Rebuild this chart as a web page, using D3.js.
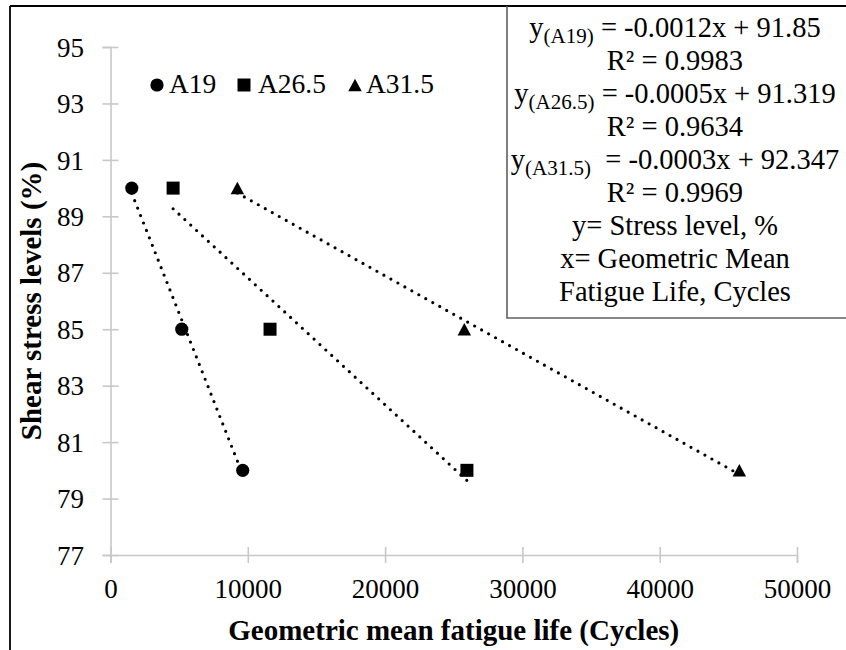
<!DOCTYPE html>
<html>
<head>
<meta charset="utf-8">
<script src="https://cdn.jsdelivr.net/npm/d3@7"></script>
<style>
  html, body { margin: 0; padding: 0; background: #fff; }
  svg { display: block; }
  text { font-family: "Liberation Serif", "Times New Roman", serif; fill: #000; }
</style>
</head>
<body>
<svg id="chart" width="846" height="650"></svg>
<script>
// Stress levels (%) applied to every mix
const stressLevels = [90, 85, 80];

// Geometric mean fatigue life (cycles) per mix, one value per stress level
const lifeA19 = [1550, 5190, 9630];
const lifeA265 = [4560, 11620, 25960];
const lifeA315 = [9240, 25770, 45800];

const seriesNames = ["A19", "A26.5", "A31.5"];
const seriesShapes = ["circle", "square", "triangle"];

// Axis ticks
const xTicks = [0, 10000, 20000, 30000, 40000, 50000];
const yTicks = [77, 79, 81, 83, 85, 87, 89, 91, 93, 95];

// Regression summary shown in the box (subscript label, equation, R²)
const eqSubs = ["(A19)", "(A26.5)", "(A31.5)"];
const eqRest = [" = -0.0012x + 91.85", " = -0.0005x + 91.319", "  = -0.0003x + 92.347"];
const eqR2 = ["R² = 0.9983", "R² = 0.9634", "R² = 0.9969"];
const noteLines = ["y= Stress level, %", "x= Geometric Mean", "Fatigue Life, Cycles"];

const series = [lifeA19, lifeA265, lifeA315].map((life, i) => ({
  name: seriesNames[i],
  shape: seriesShapes[i],
  points: life.map((x, j) => ({ x, y: stressLevels[j] }))
}));

const svg = d3.select("#chart");

// Outer frame (top and left edges)
svg.append("line").attr("x1", 10).attr("y1", 6).attr("x2", 846).attr("y2", 6)
  .attr("stroke", "#000").attr("stroke-width", 1.8);
svg.append("line").attr("x1", 10).attr("y1", 6).attr("x2", 10).attr("y2", 650)
  .attr("stroke", "#000").attr("stroke-width", 1.8);

const x = d3.scaleLinear().domain([0, 50000]).range([110.5, 797]);
const y = d3.scaleLinear().domain([77, 95]).range([555, 47]);

const axisColor = "#c8c8c8";

// Y axis
const gy = svg.append("g").attr("transform", `translate(${x(0)},0)`)
  .call(d3.axisLeft(y).tickValues(yTicks).tickSize(8).tickPadding(26));
gy.select(".domain").attr("stroke", axisColor).attr("stroke-width", 1.6);
gy.selectAll(".tick line").attr("x1", -8).attr("x2", 8)
  .attr("stroke", axisColor).attr("stroke-width", 1.6);
gy.selectAll(".tick text").attr("font-size", 27).attr("font-family", null)
  .attr("x", -26.5).attr("dy", "0.34em");

// X axis
const gx = svg.append("g").attr("transform", `translate(0,${y(77)})`)
  .call(d3.axisBottom(x).tickValues(xTicks).tickSize(8).tickFormat(d3.format("d")));
gx.select(".domain").attr("stroke", axisColor).attr("stroke-width", 1.6);
gx.selectAll(".tick line").attr("y1", -8).attr("y2", 8)
  .attr("stroke", axisColor).attr("stroke-width", 1.6);
gx.selectAll(".tick text").attr("font-size", 27).attr("font-family", null)
  .attr("y", 34).attr("dy", "0.34em");

// Axis titles
svg.append("text").attr("x", (x(0) + x(50000)) / 2).attr("y", 640)
  .attr("text-anchor", "middle").attr("font-size", 29).attr("font-weight", "bold")
  .text("Geometric mean fatigue life (Cycles)");
svg.append("text")
  .attr("transform", `translate(41,${(y(77) + y(95)) / 2}) rotate(-90)`)
  .attr("text-anchor", "middle").attr("font-size", 29).attr("font-weight", "bold")
  .text("Shear stress levels (%)");

// Least-squares linear fit over the points of one series
function linearFit(pts) {
  const mx = d3.mean(pts, d => d.x), my = d3.mean(pts, d => d.y);
  const sxy = d3.sum(pts, d => (d.x - mx) * (d.y - my));
  const sxx = d3.sum(pts, d => (d.x - mx) ** 2);
  const slope = sxy / sxx;
  return { slope, intercept: my - slope * mx };
}

const line = d3.line().x(d => x(d.x)).y(d => y(d.y));

// Dotted trendlines spanning each series' x range
series.forEach(s => {
  const fit = linearFit(s.points);
  const [x0, x1] = d3.extent(s.points, d => d.x);
  const ends = [x0, x1].map(v => ({ x: v, y: fit.intercept + fit.slope * v }));
  svg.append("path").attr("d", line(ends))
    .attr("fill", "none").attr("stroke", "#000").attr("stroke-width", 3.2)
    .attr("stroke-linecap", "round").attr("stroke-dasharray", "0 8");
});

// Marker drawing
function drawMarker(g, shape, cx, cy) {
  if (shape === "circle") {
    g.append("circle").attr("cx", cx).attr("cy", cy).attr("r", 6.6).attr("fill", "#000");
  } else if (shape === "square") {
    g.append("rect").attr("x", cx - 6.5).attr("y", cy - 6.5).attr("width", 13).attr("height", 13).attr("fill", "#000");
  } else {
    const w = 13.5, h = 12.5;
    g.append("path").attr("d", `M${cx},${cy - h / 2}L${cx + w / 2},${cy + h / 2}L${cx - w / 2},${cy + h / 2}Z`).attr("fill", "#000");
  }
}

const markers = svg.append("g");
series.forEach(s => s.points.forEach(p => drawMarker(markers, s.shape, x(p.x), y(p.y))));

// Legend
const legendMarkerX = [157, 244, 355];
const legendTextX = [169, 258, 366];
const legend = svg.append("g");
series.forEach((s, i) => {
  drawMarker(legend, s.shape, legendMarkerX[i], 85);
  legend.append("text").attr("x", legendTextX[i]).attr("y", 93)
    .attr("font-size", 27.5).text(s.name);
});

// Equation box
svg.append("path").attr("d", "M507,6V318H846")
  .attr("fill", "none").attr("stroke", "#606060").attr("stroke-width", 1.6);

const boxCx = 675;
const lineY = i => 37 + 33 * i;
const eqFont = 28.5;
eqSubs.forEach((sub, i) => {
  const t = svg.append("text").attr("x", boxCx).attr("y", lineY(2 * i))
    .attr("text-anchor", "middle").attr("font-size", eqFont);
  t.append("tspan").text("y");
  t.append("tspan").attr("font-size", 21).attr("dy", 6).text(sub);
  t.append("tspan").attr("dy", -6).text(eqRest[i]).attr("xml:space", "preserve").style("white-space", "pre");
  svg.append("text").attr("x", boxCx).attr("y", lineY(2 * i + 1))
    .attr("text-anchor", "middle").attr("font-size", eqFont).text(eqR2[i]);
});
noteLines.forEach((s, k) => {
  svg.append("text").attr("x", boxCx).attr("y", lineY(6 + k))
    .attr("text-anchor", "middle").attr("font-size", eqFont).text(s);
});
</script>
</body>
</html>
